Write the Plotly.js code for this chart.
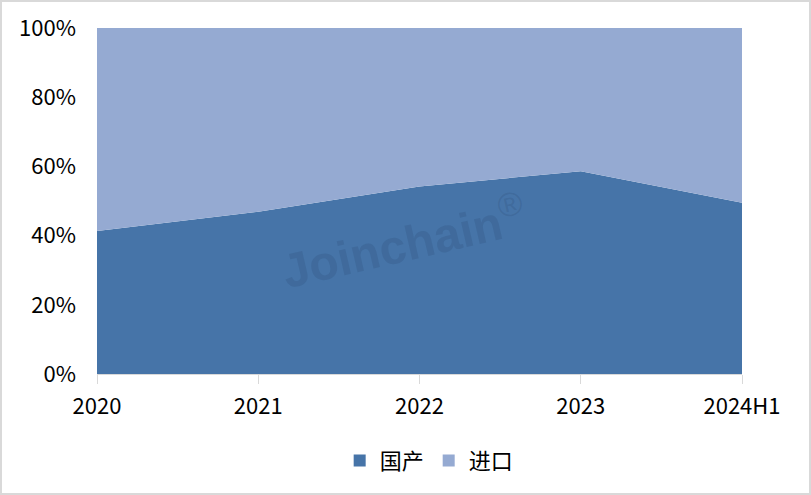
<!DOCTYPE html>
<html><head><meta charset="utf-8">
<script src="https://cdn.plot.ly/plotly-3.0.1.min.js"></script>
<style>
html,body{margin:0;padding:0;background:#fff;}
#wrap{width:811px;height:495px;box-sizing:border-box;border:2px solid #d9d9d9;position:relative;overflow:hidden;}
#chart{position:absolute;left:-2px;top:-2px;width:811px;height:495px;}
</style>
</head><body>
<div id="wrap"><div id="chart"></div></div>
<script>
const categories = ['2020','2021','2022','2023','2024H1'];
const domestic = [41.3, 46.9, 54.2, 58.6, 49.5];
const imported = [58.7, 53.1, 45.8, 41.4, 50.5];
const seriesNames = ['国产','进口'];
const colors = ['#4674A8','#95AAD2'];
const yTicks = [0,20,40,60,80,100];

const font = "'Noto Sans CJK SC', 'Noto Sans', sans-serif";

const traces = [
  {x: categories, y: domestic, name: seriesNames[0], type:'scatter', mode:'none',
   stackgroup:'one', fillcolor:colors[0], line:{width:0}, hoverinfo:'skip', showlegend:false},
  {x: categories, y: imported, name: seriesNames[1], type:'scatter', mode:'none',
   stackgroup:'one', fillcolor:colors[1], line:{width:0}, hoverinfo:'skip', showlegend:false},
  {x:[null], y:[null], name: seriesNames[0], type:'scatter', mode:'markers',
   marker:{symbol:'square', size:12, color:colors[0]}, showlegend:true},
  {x:[null], y:[null], name: seriesNames[1], type:'scatter', mode:'markers',
   marker:{symbol:'square', size:12, color:colors[1]}, showlegend:true}
];

const layout = {
  width:811, height:495,
  margin:{l:97, r:69, t:28, b:121},
  paper_bgcolor:'rgba(0,0,0,0)', plot_bgcolor:'#fff',
  font:{family:font, size:22, color:'#000'},
  showlegend:true,
  legend:{orientation:'h', x:0.515, xanchor:'center', y:-0.19, yanchor:'top',
          font:{family:font, size:22, color:'#000'}, itemwidth:30, traceorder:'normal'},
  xaxis:{type:'category', range:[0, categories.length-1], showgrid:false, zeroline:false,
         showline:true, linecolor:'#d9d9d9', linewidth:1,
         ticks:'outside', ticklen:9, tickcolor:'#d9d9d9', tickwidth:1,
         tickfont:{family:font, size:22}, ticklabelstandoff:4, fixedrange:true, automargin:false},
  yaxis:{range:[0,100], tickvals:yTicks, ticktext:yTicks.map(v=>v+'%'), showgrid:false,
         zeroline:false, showline:false, ticks:'', tickfont:{family:font, size:22},
         ticklabelstandoff:20, fixedrange:true, automargin:false},
  annotations:[{text:'<b>Joinchain</b><sup>®</sup>', xref:'paper', yref:'paper',
    x:0.475, y:0.385, xanchor:'center', yanchor:'middle', textangle:-13, showarrow:false,
    font:{family:"'Liberation Sans', Arial, sans-serif", size:48, color:'rgba(40,70,110,0.2)'}}]
};

Plotly.newPlot('chart', traces, layout, {displayModeBar:false, staticPlot:true});
</script>
</body></html>
